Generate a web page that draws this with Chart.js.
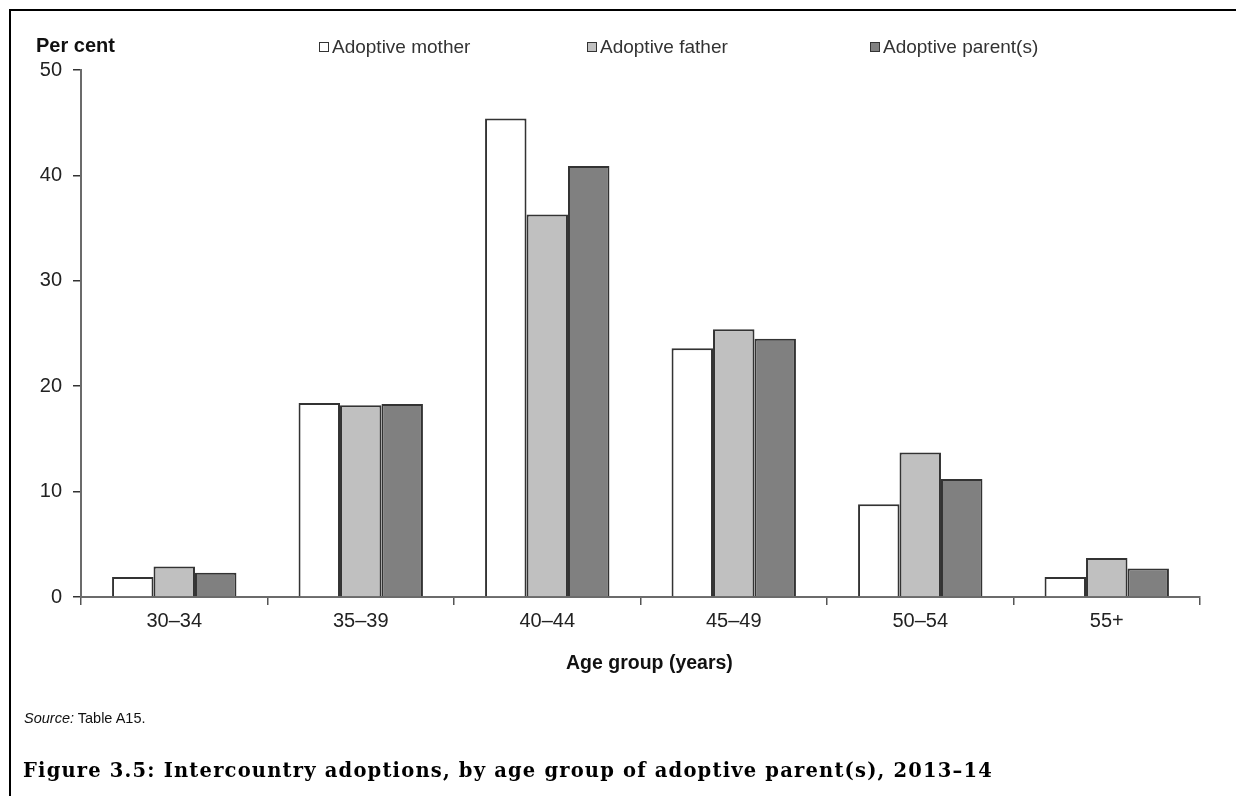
<!DOCTYPE html>
<html>
<head>
<meta charset="utf-8">
<script src="https://cdn.jsdelivr.net/npm/chart.js@4"></script>
<style>
  html, body { margin: 0; padding: 0; background: #fff; }
  body { width: 1236px; height: 796px; position: relative; overflow: hidden; font-family: "Liberation Sans", Arial, sans-serif; color: #222; }
  #frame { position: absolute; left: 9px; top: 9px; right: -5px; bottom: -5px; border-top: 2px solid #000; border-left: 2px solid #000; }
  #ageChart { position: absolute; left: 0; top: 0; }
  .ylab { position: absolute; left: 36px; top: 34px; font-weight: bold; font-size: 20px; line-height: 23px; color: #111; }
  .xlab { position: absolute; left: 566px; top: 651px; font-weight: bold; font-size: 19.5px; line-height: 23px; color: #111; white-space: nowrap; }
  .legend-item { position: absolute; top: 36px; font-size: 19px; line-height: 22px; white-space: nowrap; color: #333; }
  .legend-item span.box { display: inline-block; width: 10px; height: 10px; border: 1px solid #333; box-sizing: border-box; margin-right: 3px; vertical-align: 1px; }
  .source { position: absolute; left: 24px; top: 710px; font-size: 14.5px; line-height: 17px; color: #111; }
  .caption { position: absolute; left: 23px; top: 759px; font-family: "DejaVu Serif", serif; font-weight: bold; font-size: 19.5px; line-height: 24px; color: #000; white-space: nowrap; }
</style>
</head>
<body>
<div id="frame"></div>
<canvas id="ageChart" width="1236" height="796"></canvas>
<div class="ylab">Per cent</div>
<div class="xlab">Age group (years)</div>
<div id="legend"></div>
<div class="source"><i>Source:</i> Table A15.</div>
<div class="caption" id="caption">Figure 3.5: Intercountry adoptions, by age group of adoptive parent(s), 2013–14</div>
<script>
const ageGroups = ['30–34', '35–39', '40–44', '45–49', '50–54', '55+'];
const motherValues = [1.9, 18.4, 45.4, 23.6, 8.8, 1.9];
const fatherValues = [2.9, 18.2, 36.3, 25.4, 13.7, 3.7];
const parentValues = [2.3, 18.3, 40.9, 24.5, 11.2, 2.7];
const seriesNames = ['Adoptive mother', 'Adoptive father', 'Adoptive parent(s)'];
const seriesColors = ['#ffffff', '#c0c0c0', '#808080'];
const legendX = [319, 587, 870];

const datasets = [motherValues, fatherValues, parentValues].map((vals, i) => ({
  label: seriesNames[i],
  data: vals,
  backgroundColor: seriesColors[i],
  borderColor: '#333',
  borderWidth: 2,
  borderSkipped: 'bottom',
  categoryPercentage: 0.667,
  barPercentage: 1.0
}));

// legend drawn as html so the spacing matches the original
const legendEl = document.getElementById('legend');
seriesNames.forEach((name, i) => {
  const item = document.createElement('div');
  item.className = 'legend-item';
  item.style.left = legendX[i] + 'px';
  item.innerHTML = '<span class="box" style="background:' + seriesColors[i] + '"></span>' + name;
  legendEl.appendChild(item);
});

// stretch caption a little to the original width
const cap = document.getElementById('caption');
const capW = cap.getBoundingClientRect().width;
cap.style.letterSpacing = ((970 - capW) / cap.textContent.length) + 'px';

const tickFont = { family: '"Liberation Sans", Arial, sans-serif', size: 20 };

const ageChart = new Chart(document.getElementById('ageChart').getContext('2d'), {
  type: 'bar',
  data: { labels: ageGroups, datasets: datasets },
  options: {
    responsive: false,
    animation: false,
    layout: { padding: { left: 0, top: 70, right: 36, bottom: 120 } },
    plugins: {
      legend: { display: false },
      title: { display: false },
      tooltip: { enabled: false }
    },
    scales: {
      x: {
        grid: { display: true, drawOnChartArea: false, drawTicks: true, tickLength: 8, offset: true, color: '#555', lineWidth: 1.5 },
        border: { display: true, color: '#6b6b6b', width: 2 },
        ticks: { color: '#222', font: tickFont, padding: 4 },
        afterFit: (s) => { s.height = 79; }
      },
      y: {
        min: 0,
        max: 50,
        ticks: { stepSize: 10, color: '#222', font: tickFont, padding: 11 },
        grid: { display: true, drawOnChartArea: false, drawTicks: true, tickLength: 8, color: '#333', lineWidth: 1.5 },
        border: { display: true, color: '#6b6b6b', width: 2 },
        afterFit: (s) => { s.width = 81; }
      }
    }
  }
});
</script>
</body>
</html>
